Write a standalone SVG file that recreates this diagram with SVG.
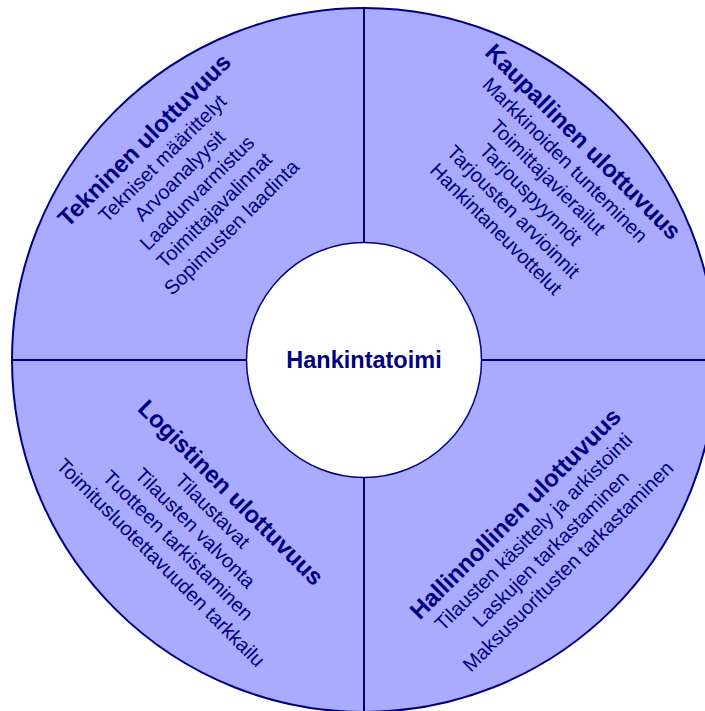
<svg xmlns="http://www.w3.org/2000/svg" width="705" height="711" viewBox="0 0 705 711">
<style>
text{font-family:"Liberation Sans",Arial,sans-serif;fill:#000080;text-anchor:middle}
.t{font-weight:bold;font-size:24px}
.l{font-size:20px}
.c{font-weight:bold;font-size:23.5px}
</style>
<rect width="705" height="711" fill="#ffffff"/>
<g id="ring"><circle cx="364" cy="360" r="352" fill="#aaaaff" stroke="#000080" stroke-width="2"/></g>
<g id="connectors" stroke="#000080" stroke-width="2">
<line x1="364" y1="8" x2="364" y2="712"/>
<line x1="12" y1="360" x2="716" y2="360"/>
</g>
<g id="center"><circle cx="364" cy="360" r="117.5" fill="#ffffff" stroke="#000080" stroke-width="1.5"/>
<text class="c" x="364" y="368">Hankintatoimi</text></g>
<g id="tekninen" transform="translate(150,146) rotate(-45)">
<text class="t" x="0" y="0">Tekninen ulottuvuus</text>
<text class="l" x="0" y="24.4">Tekniset määrittelyt</text>
<text class="l" x="0" y="48.8">Arvoanalyysit</text>
<text class="l" x="0" y="73.2">Laadunvarmistus</text>
<text class="l" x="0" y="97.6">Toimittajavalinnat</text>
<text class="l" x="0" y="122">Sopimusten laadinta</text>
</g>
<g id="kaupallinen" transform="translate(577.5,147.5) rotate(45)">
<text class="t" x="0" y="0">Kaupallinen ulottuvuus</text>
<text class="l" x="0" y="24.4">Markkinoiden tunteminen</text>
<text class="l" x="0" y="48.8">Toimittajavierailut</text>
<text class="l" x="0" y="73.2">Tarjouspyynnöt</text>
<text class="l" x="0" y="97.6">Tarjousten arvioinnit</text>
<text class="l" x="0" y="122">Hankintaneuvottelut</text>
</g>
<g id="logistinen" transform="translate(225,498.4) rotate(45)">
<text class="t" x="0" y="0">Logistinen ulottuvuus</text>
<text class="l" x="0" y="24.4">Tilaustavat</text>
<text class="l" x="0" y="48.8">Tilausten valvonta</text>
<text class="l" x="0" y="73.2">Tuotteen tarkistaminen</text>
<text class="l" x="0" y="97.6">Toimitusluotettavuuden tarkkailu</text>
</g>
<g id="hallinnollinen" transform="translate(521,519.4) rotate(-45)">
<text class="t" x="0" y="0">Hallinnollinen ulottuvuus</text>
<text class="l" x="0" y="24.4">Tilausten käsittely ja arkistointi</text>
<text class="l" x="0" y="48.8">Laskujen tarkastaminen</text>
<text class="l" x="0" y="73.2">Maksusuoritusten tarkastaminen</text>
</g>
</svg>
